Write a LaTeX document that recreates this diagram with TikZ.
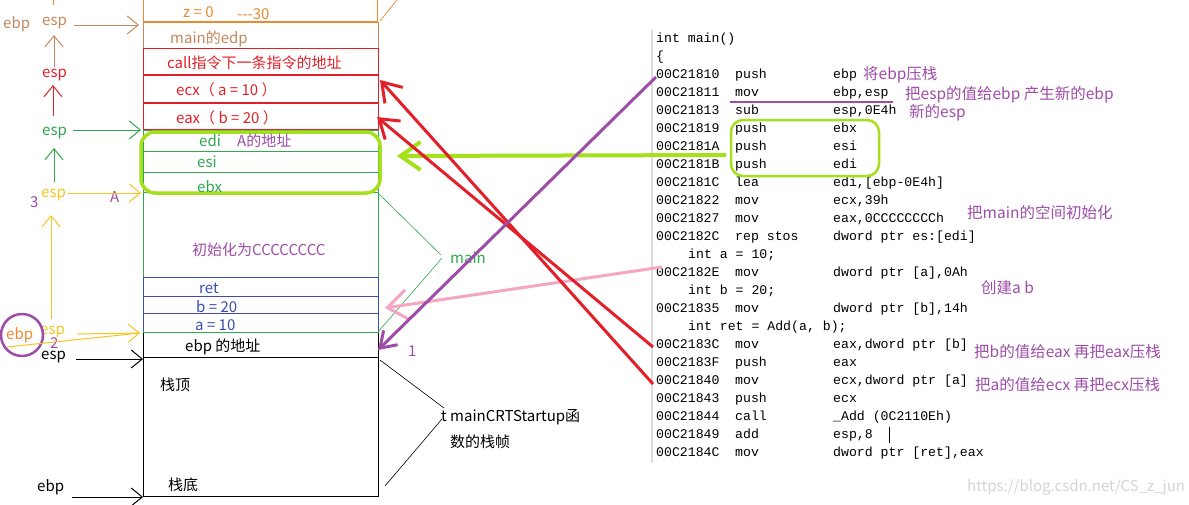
\documentclass[tikz,border=0pt]{standalone}
\usepackage{fontspec}
\setmainfont{Noto Sans CJK SC}
\newfontfamily\codefont{Liberation Mono}
\usetikzlibrary{arrows.meta}
\definecolor{cor}{HTML}{EB8A2E}
\definecolor{cbr}{HTML}{C4885E}
\definecolor{cred}{HTML}{E3202A}
\definecolor{cgr}{HTML}{2FA84F}
\definecolor{clime}{HTML}{A6DF1C}
\definecolor{cpu}{HTML}{9D4DA8}
\definecolor{cbl}{HTML}{3B4DB2}
\definecolor{cye}{HTML}{F3C623}
\definecolor{cpk}{HTML}{F4A7C3}
\definecolor{cgray}{HTML}{DCDCDC}
\definecolor{cwm}{HTML}{D5D5D5}
\newcommand\asmline[5]{\node[code] (#1) at (656,#2) {\makebox[79pt][l]{#3}\makebox[98pt][l]{#4}#5};}
\begin{document}
\begin{tikzpicture}[x=1pt,y=-1pt,
  lbl/.style={anchor=west,inner sep=0pt,font=\fontsize{15}{18}\selectfont},
  note/.style={anchor=west,inner sep=0pt,text=cpu,font=\fontsize{15.5}{18}\selectfont},
  code/.style={anchor=west,inner sep=0pt,font=\codefont\fontsize{13.2}{16}\selectfont},
  thinarr/.style={-{Straight Barb[length=11pt,width=18pt]},line width=1pt},
  bigarr/.style={-{Straight Barb[length=18pt,width=24pt]},line width=3pt},
  thinbd/.style={line width=1pt},
  thickbd/.style={line width=2.5pt},
]
\fill[white] (0,0) rectangle (1189,504);
\useasboundingbox (0,0) rectangle (1189,504);

% ---------- stack ----------
\draw[cor,thinbd] (143,0) -- (143,22) (377,0) -- (377,22);
\draw[cor,line width=0.7pt] (380,21) -- (397,0);
\draw[cbr,thinbd] (143,22) -- (143,48) (378,22) -- (378,48);
\draw[cor,thickbd] (143,22) -- (378,22);
\draw[cred,thinbd] (143,48) rectangle (378,129);
\draw[cred,thickbd] (143,75) -- (378,75) (143,103) -- (378,103);
\draw[cgr,thinbd] (143,130) rectangle (378,332);
\draw[cgr,thinbd] (143,151) -- (378,151) (143,172) -- (378,172) (143,192) -- (378,192);
\draw[cbl,thinbd] (143,277) -- (378,277) (143,296) -- (378,296) (143,313) -- (378,313)
  (143,277) -- (143,331) (378,277) -- (378,331);
\draw[black,thinbd] (143,333) -- (143,496) -- (378,496) -- (378,333) (143,357) -- (378,357);
\draw[clime,line width=3.5pt,rounded corners=14pt] (141,132) rectangle (380,193);

% brackets
\draw[cgr,line width=0.6pt] (378,193) -- (441,255) (442,258) -- (378,332);
\draw[black,line width=0.6pt] (380,360) -- (444,408) (385,486) -- (442,419);

% stack labels
\node[lbl,text=cor] (z0) at (183,12) {z = 0};
\node[lbl,text=cor] (z30) at (237,14) {{-}{-}{-}30};
\node[lbl,text=cbr] (medp) at (170,39) {main的edp};
\node[lbl,text=cred] (callr) at (167,63) {call指令下一条指令的地址};
\node[lbl,text=cred] (ecxr) at (176,90) {ecx（ a = 10 ）};
\node[lbl,text=cred] (eaxr) at (176,118) {eax（ b = 20 ）};
\node[lbl,text=cgr] (edir) at (199,141) {edi};
\node[lbl,text=cpu] (aaddr) at (237,141) {A的地址};
\node[lbl,text=cgr] (esir) at (197,162) {esi};
\node[lbl,text=cgr] (ebxr) at (197,187) {ebx};
\node[lbl,text=cpu] (initr) at (192,250) {初始化为CCCCCCCC};
\node[lbl,text=cbl] (retr) at (199,288) {ret};
\node[lbl,text=cbl] (br) at (196,307) {b = 20};
\node[lbl,text=cbl] (ar) at (195,325) {a = 10};
\node[lbl] (ebpaddr) at (185,347) {ebp 的地址};
\node[lbl] (top) at (160,385) {栈顶};
\node[lbl] (bot) at (168,485) {栈底};
\node[lbl,text=cgr] (mainlbl) at (450,258) {main};
\node[lbl] (crt1) at (441,417) {t mainCRTStartup函};
\node[lbl] (crt2) at (450,442) {数的栈帧};

% ---------- left column ----------
\node[lbl,text=cbr] (ebp1) at (3,24) {ebp};
\node[lbl,text=cbr] (esp1) at (42,23) {esp};
\node[lbl,text=cred] (esp2) at (42,75) {esp};
\node[lbl,text=cgr] (esp3) at (42,133) {esp};
\node[lbl,text=cpu] (n3) at (30,202) {3};
\node[lbl,text=cye] (esp4) at (41,195) {esp};
\node[lbl,text=cpu] (nA) at (110,197) {A};
\node[lbl,text=cor] (ebp2) at (6,335) {ebp};
\node[lbl,text=cye] (esp5) at (40,332) {esp};
\node[lbl,text=cpu] (n2) at (50,343) {2};
\node[lbl] (esp6) at (41,357) {esp};
\node[lbl] (ebp3) at (37,487) {ebp};
\node[draw=cpu,line width=2.5pt,circle,minimum size=42pt,inner sep=0pt] (circ) at (22,335) {};

\coordinate (c1a) at (74,25);  \coordinate (c1b) at (139,25);
\coordinate (u1a) at (54,67);  \coordinate (u1b) at (54,35);
\coordinate (u2a) at (53,116); \coordinate (u2b) at (53,85);
\coordinate (c3a) at (73,130); \coordinate (c3b) at (141,130);
\coordinate (u3a) at (54,182); \coordinate (u3b) at (54,148);
\coordinate (c4a) at (68,193); \coordinate (c4b) at (141,193);
\coordinate (u4a) at (51,319); \coordinate (u4b) at (51,215);
\coordinate (c5a) at (77,334); \coordinate (c5b) at (140,333);
\coordinate (c5c) at (7,347);
\coordinate (c6a) at (76,359); \coordinate (c6b) at (143,359);
\coordinate (c7a) at (72,497); \coordinate (c7b) at (143,497);
\coordinate (otop) at (53,0);  \coordinate (obot) at (53,5);

\draw[cor,line width=1pt] (otop) -- (obot);
\draw[cbr,thinarr] (c1a) -- (c1b);
\draw[cbr,thinarr] (u1a) -- (u1b);
\draw[cred,thinarr] (u2a) -- (u2b);
\draw[cgr,thinarr] (c3a) -- (c3b);
\draw[cgr,thinarr] (u3a) -- (u3b);
\draw[cye,thinarr] (c4a) -- (c4b);
\draw[cye,thinarr] (u4a) -- (u4b);
\draw[cye,thinarr] (c5a) -- (c5b);
\draw[cye,line width=1pt] (c5c) -- (c5b);
\draw[black,thinarr] (c6a) -- (c6b);
\draw[black,thinarr] (c7a) -- (c7b);

% ---------- code ----------
\draw[cgray,line width=1.5pt] (652,30) -- (652,463);
\node[code] (l0) at (656,39) {int main()};
\node[code] (l1) at (656,57) {\{};
\asmline{l2}{75}{00C21810}{push}{ebp}
\asmline{l3}{93}{00C21811}{mov}{ebp,esp}
\asmline{l4}{111}{00C21813}{sub}{esp,0E4h}
\asmline{l5}{129}{00C21819}{push}{ebx}
\asmline{l6}{147}{00C2181A}{push}{esi}
\asmline{l7}{165}{00C2181B}{push}{edi}
\asmline{l8}{183}{00C2181C}{lea}{edi,[ebp-0E4h]}
\asmline{l9}{201}{00C21822}{mov}{ecx,39h}
\asmline{l10}{219}{00C21827}{mov}{eax,0CCCCCCCCh}
\asmline{l11}{237}{00C2182C}{rep stos}{dword ptr es:[edi]}
\node[code] (l12) at (688,255) {int a = 10;};
\asmline{l13}{273}{00C2182E}{mov}{dword ptr [a],0Ah}
\node[code] (l14) at (688,291) {int b = 20;};
\asmline{l15}{309}{00C21835}{mov}{dword ptr [b],14h}
\node[code] (l16) at (688,327) {int ret = Add(a, b);};
\asmline{l17}{345}{00C2183C}{mov}{eax,dword ptr [b]}
\asmline{l18}{363}{00C2183F}{push}{eax}
\asmline{l19}{381}{00C21840}{mov}{ecx,dword ptr [a]}
\asmline{l20}{399}{00C21843}{push}{ecx}
\asmline{l21}{417}{00C21844}{call}{\_Add (0C2110Eh)}
\asmline{l22}{435}{00C21849}{add}{esp,8}
\asmline{l23}{453}{00C2184C}{mov}{dword ptr [ret],eax}
\draw[black,line width=0.8pt] (889,427) -- (889,443);

% notes
\node[note] (t1) at (863,75) {将ebp压栈};
\node[note] (t2) at (905,95) {把esp的值给ebp 产生新的ebp};
\node[note] (t3) at (909,113) {新的esp};
\node[note] (t4) at (967,213) {把main的空间初始化};
\node[note] (t5) at (981,288) {创建a b};
\node[note] (t6) at (974,352) {把b的值给eax 再把eax压栈};
\node[note] (t7) at (975,385) {把a的值给ecx 再把ecx压栈};
\node[lbl,text=cwm] (wm) at (967,487) {https://blog.csdn.net/CS\_z\_jun};

\draw[cpu,line width=2.5pt] (730,102) -- (893,102);
\draw[clime,line width=2.5pt,rounded corners=12pt] (731,120) rectangle (879,176);

% ---------- long connectors ----------
\coordinate (ecxin) at (380,80);
\coordinate (eaxin) at (377,117);
\coordinate (ebpin) at (378,350);
\coordinate (abin) at (385,308);
\coordinate (regin) at (397,156);
\coordinate (pushend) at (726,155);
\coordinate (pinkstart) at (662,267);

\draw[clime,-{Straight Barb[length=20pt,width=28pt]},line width=4pt] (pushend) -- (regin);
\draw[cpk,-{Straight Barb[length=20pt,width=30pt]},line width=3pt] (pinkstart) -- (abin);
\draw[cred,bigarr] ([xshift=-3pt,yshift=-3pt]l19.west) -- (ecxin);
\draw[cred,bigarr] ([xshift=-3pt,yshift=-2pt]l17.west) -- (eaxin);
\draw[cpu,-{Straight Barb[length=15pt,width=20pt]},line width=3pt] ([yshift=-2pt]l2.west) -- (ebpin);
\node[lbl,text=cpu] (n1) at (408,351) {1};
\end{tikzpicture}
\end{document}
